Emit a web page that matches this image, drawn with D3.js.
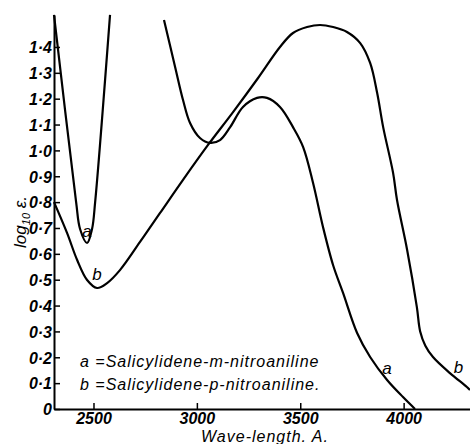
<!DOCTYPE html>
<html>

<head>
    <meta charset="UTF-8">
    <title>Salicylidene nitroanilines</title>
    <script src="https://d3js.org/d3.v7.min.js"></script>
    <style>
        body {
            margin: 0;
            background-color: white;
        }
        text {
            font-family: "Liberation Sans", Arial, sans-serif;
            font-style: italic;
            fill: black;
        }
    </style>
</head>

<body>
    <div id="chart">
    </div>
    <script>
        // wave-length (A) and log10 eps; null = curve off the top
        var waveA = [2309, 2416, 2435, 2469, 2493, 2508, 2580, 2650,
            2841, 2895, 2933, 2967, 3015, 3064, 3112, 3161, 3223, 3291, 3339, 3402,
            3465, 3514, 3562, 3610, 3659, 3707, 3775, 3838, 3920, 3997, 4055];
        var logA = [1.524, 0.800, 0.696, 0.642, 0.696, 0.800, 1.524, null,
            1.504, 1.322, 1.195, 1.106, 1.048, 1.029, 1.040, 1.090, 1.168, 1.203, 1.203, 1.168,
            1.090, 1.013, 0.874, 0.704, 0.556, 0.449, 0.294, 0.201, 0.112, 0.046, 0.0];

        var waveB = [2309, 2372, 2421, 2469, 2517, 2566, 2629, 2725, 2822, 2933, 3054,
            3175, 3296, 3402, 3465, 3533, 3596, 3659, 3726, 3790, 3838, 3872,
            3901, 3949, 3968, 4017, 4064, 4080, 4105, 4142, 4224, 4306, 4321];
        var logB = [0.800, 0.681, 0.576, 0.499, 0.468, 0.487, 0.538, 0.646, 0.758, 0.886, 1.021,
            1.148, 1.280, 1.400, 1.454, 1.477, 1.485, 1.477, 1.458, 1.415, 1.338, 1.222,
            1.090, 0.913, 0.808, 0.615, 0.394, 0.300, 0.245, 0.201, 0.139, 0.085, 0.073];

        var xTicks = [2500, 3000, 3500, 4000];
        var yTicks = [0, 0.1, 0.2, 0.3, 0.4, 0.5, 0.6, 0.7, 0.8, 0.9, 1.0, 1.1, 1.2, 1.3, 1.4];
        var yTickLabels = ['0', '0·1', '0·2', '0·3', '0·4', '0·5', '0·6', '0·7', '0·8', '0·9',
            '1·0', '1·1', '1·2', '1·3', '1·4'];

        var legendLines = ['a =Salicylidene-m-nitroaniline', 'b =Salicylidene-p-nitroaniline.'];

        (function(d3) {

            var chartWidth = 470;
            var chartHeight = 444;

            var svg = d3.select('#chart')
                .append('svg')
                    .attr('width', chartWidth)
                    .attr('height', chartHeight);

            var x = d3.scaleLinear()
                .domain([2309, 4321])
                .range([54, 470]);

            var y = d3.scaleLinear()
                .domain([0, 1.5236])
                .range([409, 15]);

            var xAxis = svg.append('g')
                .attr('transform', 'translate(0,409)')
                .call(d3.axisBottom(x)
                    .tickValues(xTicks)
                    .tickSizeInner(-6)
                    .tickSizeOuter(0)
                    .tickPadding(4)
                    .tickFormat(d3.format('d')));

            var yAxis = svg.append('g')
                .attr('transform', 'translate(54,0)')
                .call(d3.axisLeft(y)
                    .tickValues(yTicks)
                    .tickSizeInner(-6)
                    .tickSizeOuter(0)
                    .tickPadding(2)
                    .tickFormat(function(d, i) { return yTickLabels[i]; }));

            [xAxis, yAxis].forEach(function(g) {
                g.select('.domain').attr('stroke-width', 2);
                g.selectAll('.tick line').attr('stroke-width', 1.5);
                g.selectAll('.tick text')
                    .attr('font-size', 16)
                    .attr('font-weight', 'bold')
                    .attr('font-family', null);
            });
            yAxis.selectAll('.tick text').attr('dy', '0.36em');

            var line = d3.line()
                .defined(function(d) { return d[1] !== null; })
                .x(function(d) { return x(d[0]); })
                .y(function(d) { return y(d[1]); })
                .curve(d3.curveCatmullRom.alpha(0.5));

            var series = [d3.zip(waveA, logA), d3.zip(waveB, logB)];

            svg.selectAll('path.curve')
                .data(series)
                .enter()
                .append('path')
                .attr('class', 'curve')
                .attr('d', line)
                .attr('fill', 'none')
                .attr('stroke', 'black')
                .attr('stroke-width', 2.2);

            // curve letters
            var marks = [
                { t: 'a', w: 2469, v: 0.665 },
                { t: 'b', w: 2517, v: 0.50 },
                { t: 'a', w: 3920, v: 0.135 },
                { t: 'b', w: 4265, v: 0.14 }
            ];
            svg.selectAll('text.mark')
                .data(marks)
                .enter()
                .append('text')
                .attr('class', 'mark')
                .attr('x', function(d) { return x(d.w); })
                .attr('y', function(d) { return y(d.v); })
                .attr('text-anchor', 'middle')
                .attr('font-size', 17)
                .text(function(d) { return d.t; });

            svg.selectAll('text.legend')
                .data(legendLines)
                .enter()
                .append('text')
                .attr('class', 'legend')
                .attr('x', 80)
                .attr('y', function(d, i) { return 367 + i * 23; })
                .attr('font-size', 16)
                .attr('letter-spacing', 1)
                .text(function(d) { return d; });

            svg.append('text')
                .attr('x', 265)
                .attr('y', 442)
                .attr('text-anchor', 'middle')
                .attr('font-size', 16)
                .attr('letter-spacing', 1)
                .text('Wave-length. A.');

            var yLabel = svg.append('text')
                .attr('transform', 'translate(26,222) rotate(-90)')
                .attr('text-anchor', 'middle')
                .attr('font-size', 17);
            yLabel.append('tspan').text('log');
            yLabel.append('tspan').attr('font-size', 11).attr('dy', 4).text('10');
            yLabel.append('tspan').attr('dy', -4).text(' ε.');

        })(window.d3);
    </script>
</body>

</html>
